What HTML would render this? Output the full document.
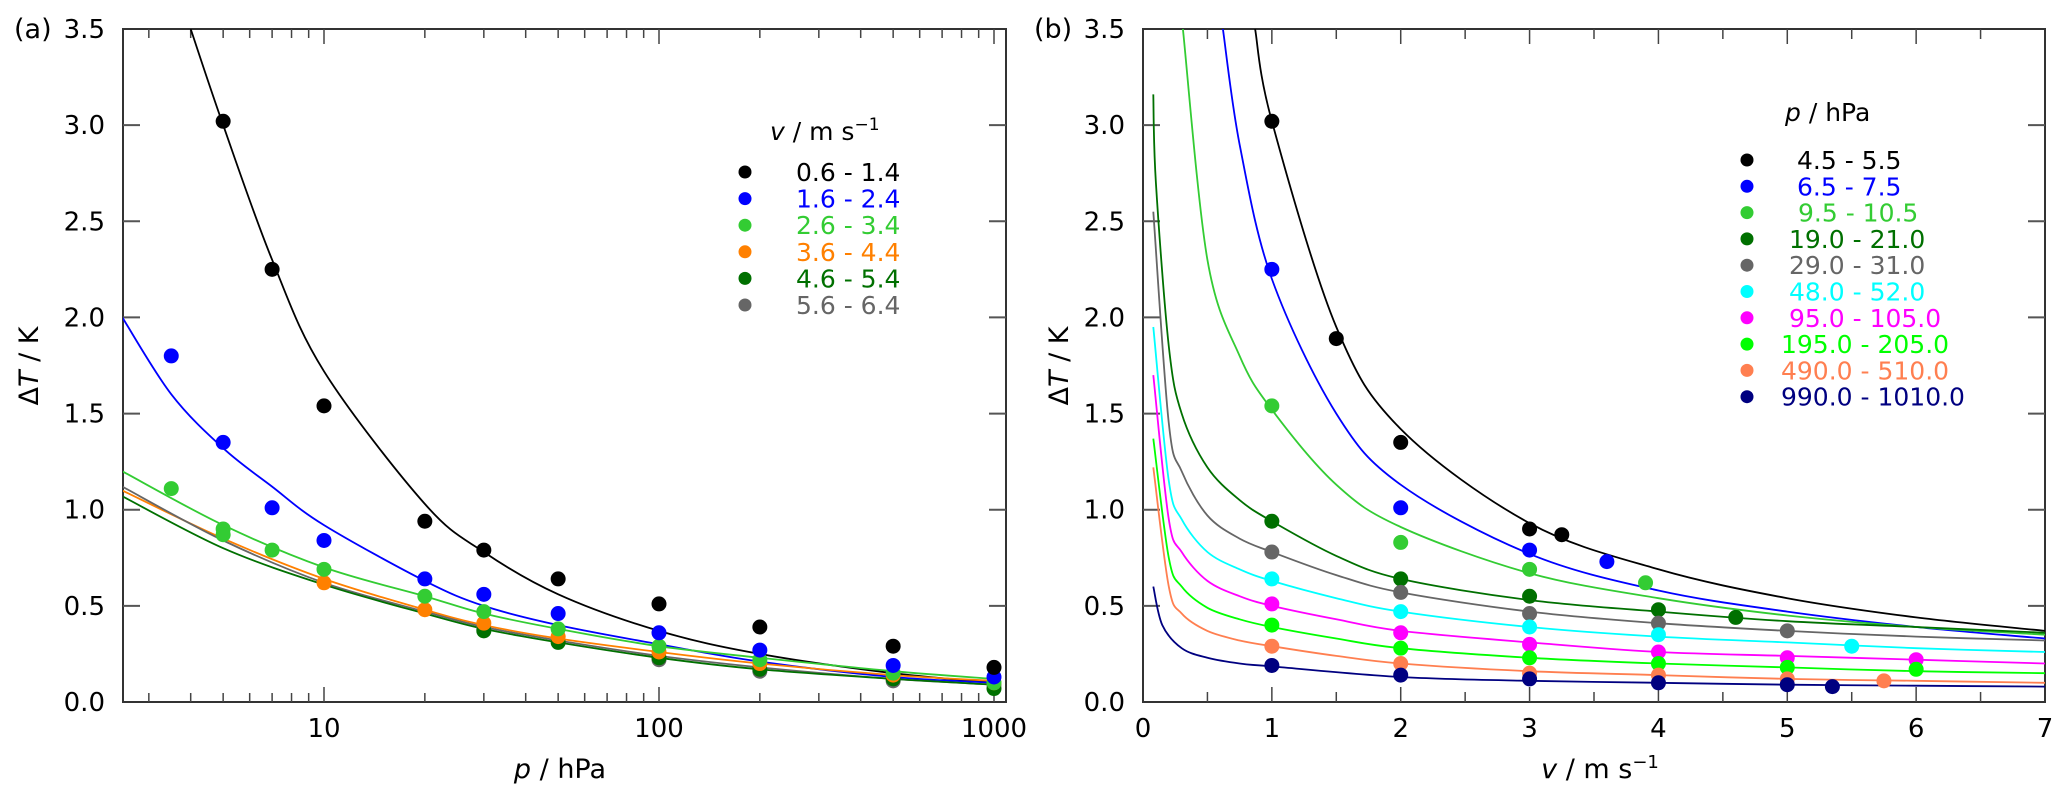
<!DOCTYPE html>
<html><head><meta charset="utf-8"><style>
html,body{margin:0;padding:0;background:#fff}
svg{display:block;font-family:"DejaVu Sans","Liberation Sans",sans-serif}
</style></head><body>
<svg id="chart" width="2067" height="795" viewBox="0 0 2067 795" xmlns="http://www.w3.org/2000/svg"></svg>
<script>
// ---------- Panel (a) data ----------
const aSeriesNames = ["0.6 - 1.4","1.6 - 2.4","2.6 - 3.4","3.6 - 4.4","4.6 - 5.4","5.6 - 6.4"];
const aColors = ["#000000","#0000ff","#33cc33","#ff8000","#007000","#666666"];
const aPointsP = [
  [5,7,10,20,30,50,100,200,500,1000],
  [3.5,5,7,10,20,30,50,100,200,500,1000],
  [3.5,5,5,7,10,20,30,50,100,200,500,1000],
  [10,20,30,50,100,200,500,1000],
  [30,50,100,200,500,1000],
  [30,100,200,500,1000]
];
const aPointsT = [
  [3.02,2.25,1.54,0.94,0.79,0.64,0.51,0.39,0.29,0.18],
  [1.80,1.35,1.01,0.84,0.64,0.56,0.46,0.36,0.27,0.19,0.13],
  [1.11,0.90,0.87,0.79,0.69,0.55,0.47,0.38,0.29,0.22,0.15,0.10],
  [0.62,0.48,0.41,0.34,0.26,0.20,0.14,0.10],
  [0.37,0.31,0.23,0.17,0.12,0.07],
  [0.38,0.22,0.16,0.11,0.09]
];
const aCurveP = [
  [4,5,7,10,20,30,50,100,200,500,1000],
  [2.5,3.5,5,7,10,20,30,50,100,200,500,1000],
  [2.5,5,10,20,30,50,100,200,500,1000],
  [2.5,5,10,20,30,50,100,200,500,1000],
  [2.5,5,10,20,30,50,100,200,500,1000],
  [2.5,5,10,20,30,50,100,200,500,1000]
];
const aCurveT = [
  [3.5,3.0,2.3,1.72,1.03,0.78,0.56,0.37,0.25,0.15,0.10],
  [2.0,1.6,1.32,1.12,0.92,0.63,0.50,0.40,0.30,0.21,0.13,0.10],
  [1.2,0.92,0.70,0.55,0.46,0.38,0.29,0.23,0.16,0.12],
  [1.1,0.85,0.64,0.48,0.40,0.33,0.26,0.20,0.14,0.11],
  [1.07,0.80,0.61,0.46,0.38,0.31,0.23,0.17,0.12,0.09],
  [1.12,0.84,0.62,0.47,0.39,0.32,0.24,0.18,0.12,0.09]
];
const aCurveOrder = [0,1,2,3,5,4];
const aXTicks = [10,100,1000];
const yTicks = [0,0.5,1,1.5,2,2.5,3,3.5];
const yTickLabels = ["0.0","0.5","1.0","1.5","2.0","2.5","3.0","3.5"];

// ---------- Panel (b) data ----------
const bSeriesNames = ["4.5 - 5.5","6.5 - 7.5","9.5 - 10.5","19.0 - 21.0","29.0 - 31.0","48.0 - 52.0","95.0 - 105.0","195.0 - 205.0","490.0 - 510.0","990.0 - 1010.0"];
const bColors = ["#000000","#0000ff","#33cc33","#007000","#666666","#00ffff","#ff00ff","#00ff00","#ff7f50","#000080"];
const bPointsV = [
  [1,1.5,2,3,3.25],
  [1,2,3,3.6],
  [1,2,3,3.9],
  [1,2,3,4,4.6],
  [1,2,3,4,5],
  [1,2,3,4,5.5],
  [1,2,3,4,5,6],
  [1,2,3,4,5,6],
  [1,2,3,4,5,5.75],
  [1,2,3,4,5,5.35]
];
const bPointsT = [
  [3.02,1.89,1.35,0.90,0.87],
  [2.25,1.01,0.79,0.73],
  [1.54,0.83,0.69,0.62],
  [0.94,0.64,0.55,0.48,0.44],
  [0.78,0.57,0.46,0.41,0.37],
  [0.64,0.47,0.39,0.35,0.29],
  [0.51,0.36,0.30,0.26,0.23,0.22],
  [0.40,0.28,0.23,0.20,0.18,0.17],
  [0.29,0.20,0.15,0.14,0.12,0.11],
  [0.19,0.14,0.12,0.10,0.09,0.08]
];
const bCurveV = [
  [0.87,1,1.5,2,3,4,5,6,7],
  [0.62,0.75,1,1.5,2,3,4,5,6,7],
  [0.31,0.5,0.75,1,1.5,2,3,4,5,6,7],
  [0.08,0.1,0.2,0.3,0.5,0.75,1,1.5,2,3,4,5,6,7],
  [0.08,0.2,0.3,0.5,0.75,1,1.5,2,3,4,5,6,7],
  [0.08,0.2,0.3,0.5,0.75,1,1.5,2,3,4,5,6,7],
  [0.08,0.2,0.3,0.5,0.75,1,1.5,2,3,4,5,6,7],
  [0.08,0.2,0.3,0.5,0.75,1,1.5,2,3,4,5,6,7],
  [0.08,0.2,0.3,0.5,0.75,1,1.5,2,3,4,5,6,7],
  [0.08,0.15,0.3,0.5,0.75,1,2,3,4,5,6,7]
];
const bCurveT = [
  [3.5,3.02,1.95,1.42,0.93,0.69,0.54,0.44,0.37],
  [3.5,2.9,2.2,1.5,1.13,0.77,0.58,0.47,0.39,0.33],
  [3.5,2.3,1.8,1.52,1.13,0.91,0.67,0.54,0.45,0.39,0.35],
  [3.16,2.7,1.85,1.5,1.22,1.05,0.94,0.76,0.64,0.53,0.47,0.42,0.39,0.36],
  [2.55,1.45,1.2,0.97,0.85,0.78,0.66,0.57,0.47,0.41,0.37,0.34,0.32],
  [1.95,1.15,0.95,0.78,0.69,0.63,0.54,0.47,0.39,0.34,0.31,0.28,0.26],
  [1.7,0.95,0.78,0.63,0.55,0.50,0.43,0.37,0.31,0.26,0.24,0.22,0.20],
  [1.37,0.75,0.60,0.49,0.43,0.39,0.33,0.28,0.23,0.20,0.18,0.16,0.15],
  [1.22,0.60,0.46,0.37,0.32,0.29,0.24,0.20,0.16,0.14,0.12,0.11,0.10],
  [0.6,0.40,0.28,0.23,0.20,0.185,0.13,0.11,0.10,0.09,0.085,0.08]
];
const bXTicks = [0,1,2,3,4,5,6,7];

// ---------- geometry ----------
const NS = "http://www.w3.org/2000/svg";
const svg = document.getElementById('chart');
const TOP = 29, BOT = 702;
const A = {l:123, r:1006};
const B = {l:1143, r:2045};
const yS = t => BOT - (BOT-TOP)*t/3.5;
const xA = p => 324 + 335*(Math.log10(p)-1);
const xB = v => B.l + (B.r-B.l)*v/7;

function el(tag, attrs, parent){
  const e = document.createElementNS(NS, tag);
  for (const k in attrs) e.setAttribute(k, attrs[k]);
  (parent||svg).appendChild(e);
  return e;
}
function txt(s, x, y, attrs, parent){
  const t = el('text', Object.assign({x:x, y:y}, attrs), parent);
  t.textContent = s;
  return t;
}
function smoothPath(pts){
  let d = `M${pts[0][0].toFixed(1)},${pts[0][1].toFixed(1)}`;
  for (let i=0;i<pts.length-1;i++){
    const p0 = pts[Math.max(0,i-1)], p1 = pts[i], p2 = pts[i+1], p3 = pts[Math.min(pts.length-1,i+2)];
    const c1x = p1[0]+(p2[0]-p0[0])/6, c1y = p1[1]+(p2[1]-p0[1])/6;
    const c2x = p2[0]-(p3[0]-p1[0])/6, c2y = p2[1]-(p3[1]-p1[1])/6;
    d += ` C${c1x.toFixed(1)},${c1y.toFixed(1)} ${c2x.toFixed(1)},${c2y.toFixed(1)} ${p2[0].toFixed(1)},${p2[1].toFixed(1)}`;
  }
  return d;
}

const defs = el('defs', {});
const cpA = el('clipPath', {id:'clipA'}, defs);
el('rect', {x:A.l, y:TOP, width:A.r-A.l, height:BOT-TOP}, cpA);
const cpB = el('clipPath', {id:'clipB'}, defs);
el('rect', {x:B.l, y:TOP, width:B.r-B.l, height:BOT-TOP}, cpB);

function drawFrame(P, name){
  const g = el('g', {});
  
  
  el('rect', {x:P.l, y:TOP, width:P.r-P.l, height:BOT-TOP, fill:'none', stroke:'#333', 'stroke-width':2}, g);
  yTicks.forEach((t,i)=>{
    const y = yS(t);
    if (i>0 && i<yTicks.length-1){
      el('line', {x1:P.l, x2:P.l+17, y1:y, y2:y, stroke:'#555', 'stroke-width':2}, g);
      el('line', {x1:P.r, x2:P.r-17, y1:y, y2:y, stroke:'#555', 'stroke-width':2}, g);
    }
    const lab = txt(yTickLabels[i], P.l-18, y+9, {'text-anchor':'end','font-size':26,fill:'#000'}, g);
    
    
  });
  return g;
}

// ---------- Panel A ----------
const gA = drawFrame(A, 'panel-a');
for (let dec=1; dec<=1000; dec*=10){
  for (let m=1; m<=9; m++){
    const p = dec*m;
    if (p<2.5 || p>1085) continue;
    const x = xA(p), len = (m===1)?15:9;
    el('line', {x1:x,x2:x,y1:BOT,y2:BOT-len,stroke:'#444','stroke-width':1.5}, gA);
    el('line', {x1:x,x2:x,y1:TOP,y2:TOP+len,stroke:'#444','stroke-width':1.5}, gA);
  }
}
aXTicks.forEach(p=>{
  const t = txt(String(p), xA(p), 737, {'text-anchor':'middle','font-size':26}, gA);
  
  
});
const axA = el('text', {x:560, y:778, 'text-anchor':'middle', 'font-size':27});
axA.innerHTML = '<tspan font-style="italic">p</tspan> / hPa';


const ayA = el('text', {x:0, y:0, 'text-anchor':'middle', 'font-size':27, transform:'translate(38,366) rotate(-90)'});
ayA.innerHTML = 'Δ<tspan font-style="italic">T</tspan> / K';


const labA = txt('(a)', 14, 38, {'font-size':27});



const cA = el('g', {'clip-path':'url(#clipA)'});


aCurveOrder.forEach(i=>{
  const pts = aCurveP[i].map((p,j)=>[xA(p), yS(aCurveT[i][j])]);
  const path = el('path', {d:smoothPath(pts), fill:'none', stroke:aColors[i], 'stroke-width':1.8}, cA);
  
  
});
[5,4,3,2,1,0].forEach(i=>{
  aPointsP[i].forEach((p,j)=>{
    const c = el('circle', {cx:xA(p), cy:yS(aPointsT[i][j]), r:7.5, fill:aColors[i]}, cA);
    
    
  });
});
const legA = el('g', {});


const ltA = el('text', {x:770, y:140, 'font-size':25}, legA);
ltA.innerHTML = '<tspan font-style="italic">v</tspan> / m s<tspan dy="-10" font-size="17">−1</tspan>';
aSeriesNames.forEach((s,i)=>{
  const y = 172 + i*26.6;
  const c = el('circle', {cx:745, cy:y, r:6.5, fill:aColors[i]}, legA);
  
  
  const t = txt(s, 796, y+9, {'font-size':25, fill:aColors[i]}, legA);
  
  
});

// ---------- Panel B ----------
const gB = drawFrame(B, 'panel-b');
for (let k=1;k<14;k++){
  const v = k/2, x = xB(v), len = (k%2===0)?15:10;
  el('line', {x1:x,x2:x,y1:BOT,y2:BOT-len,stroke:'#444','stroke-width':1.5}, gB);
  el('line', {x1:x,x2:x,y1:TOP,y2:TOP+len,stroke:'#444','stroke-width':1.5}, gB);
}
bXTicks.forEach(v=>{
  const t = txt(String(v), xB(v), 737, {'text-anchor':'middle','font-size':26}, gB);
  
  
});
const axB = el('text', {x:1600, y:778, 'text-anchor':'middle', 'font-size':27});
axB.innerHTML = '<tspan font-style="italic">v</tspan> / m s<tspan dy="-10" font-size="18">−1</tspan>';


const ayB = el('text', {x:0, y:0, 'text-anchor':'middle', 'font-size':27, transform:'translate(1068,366) rotate(-90)'});
ayB.innerHTML = 'Δ<tspan font-style="italic">T</tspan> / K';


const labB = txt('(b)', 1034, 38, {'font-size':27});



const cB = el('g', {'clip-path':'url(#clipB)'});


bCurveV.forEach((vs,i)=>{
  const pts = vs.map((v,j)=>[xB(v), yS(bCurveT[i][j])]);
  const path = el('path', {d:smoothPath(pts), fill:'none', stroke:bColors[i], 'stroke-width':1.8}, cB);
  
  
});
bPointsV.forEach((vs,i)=>{
  vs.forEach((v,j)=>{
    const c = el('circle', {cx:xB(v), cy:yS(bPointsT[i][j]), r:7.5, fill:bColors[i]}, cB);
    
    
  });
});
const legB = el('g', {});


const ltB = el('text', {x:1785, y:121, 'font-size':25}, legB);
ltB.innerHTML = '<tspan font-style="italic">p</tspan> / hPa';
const bLegX = [1797,1797,1798,1789,1789,1789,1789,1781,1781,1781];
bSeriesNames.forEach((s,i)=>{
  const y = 160 + i*26.3;
  const c = el('circle', {cx:1747, cy:y, r:6.5, fill:bColors[i]}, legB);
  
  
  const t = txt(s, bLegX[i], y+9, {'font-size':25, fill:bColors[i]}, legB);
  
  
});
</script>
</body></html>
